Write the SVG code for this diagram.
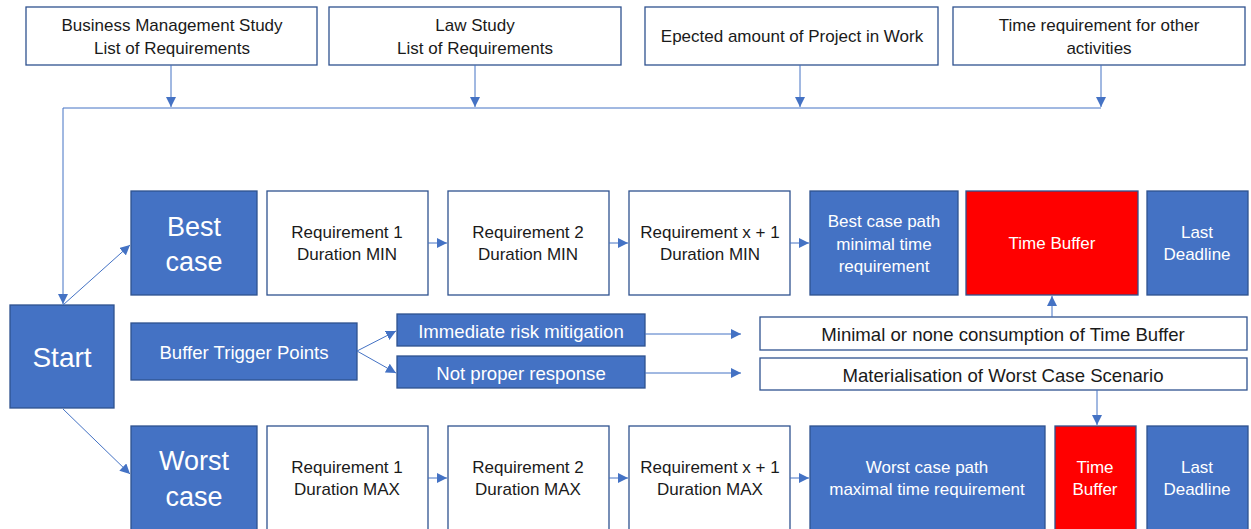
<svg xmlns="http://www.w3.org/2000/svg" width="1251" height="529" viewBox="0 0 1251 529">
  <style>
    .box { fill: #ffffff; stroke: #2F528F; stroke-width: 1.3; }
    .blue { fill: #4472C4; stroke: #2F528F; stroke-width: 1.3; }
    .red { fill: #FF0000; stroke: #2F528F; stroke-width: 1.3; }
    text { font-family: "Liberation Sans", Arial, sans-serif; text-anchor: middle; dominant-baseline: central; }
    .dark { fill: #1a1a1a; font-size: 17px; }
    .light { fill: #ffffff; font-size: 17px; }
    .big { fill: #ffffff; font-size: 27px; }
    .mid { fill: #1a1a1a; font-size: 18.6px; }
    .trig { fill: #ffffff; font-size: 18.6px; }
    .line { stroke: #4472C4; stroke-width: 1; fill: none; }
  </style>
  <defs>
    <marker id="arrow" viewBox="0 0 10 10" refX="10" refY="5" markerWidth="10" markerHeight="10" markerUnits="userSpaceOnUse" orient="auto">
      <path d="M0,0 L10,5 L0,10 Z" fill="#4472C4"/>
    </marker>
  </defs>

  <!-- Inputs -->
  <g id="n-business">
    <rect class="box" x="26" y="7" width="291" height="58"/>
    <text class="dark" x="172" y="25">Business Management Study</text>
    <text class="dark" x="172" y="48">List of Requirements</text>
  </g>
  <g id="n-law">
    <rect class="box" x="329" y="7" width="292" height="58"/>
    <text class="dark" x="475" y="25">Law Study</text>
    <text class="dark" x="475" y="48">List of Requirements</text>
  </g>
  <g id="n-projects">
    <rect class="box" x="645" y="7" width="293" height="58"/>
    <text class="dark" x="792" y="36">Epected amount of Project in Work</text>
  </g>
  <g id="n-other">
    <rect class="box" x="953" y="7" width="292" height="58"/>
    <text class="dark" x="1099" y="25">Time requirement for other</text>
    <text class="dark" x="1099" y="48">activities</text>
  </g>

  <!-- Start -->
  <g id="n-start">
    <rect class="blue" x="10" y="305" width="104" height="103"/>
    <text class="big" x="62" y="357" style="font-size:28px">Start</text>
  </g>

  <!-- Best case row -->
  <g id="n-best">
    <rect class="blue" x="131" y="191" width="126" height="104"/>
    <text class="big" x="194" y="227">Best</text>
    <text class="big" x="194" y="262">case</text>
  </g>
  <g id="n-best-req1">
    <rect class="box" x="267" y="191" width="161" height="104"/>
    <text class="dark" x="347" y="232">Requirement 1</text>
    <text class="dark" x="347" y="254">Duration MIN</text>
  </g>
  <g id="n-best-req2">
    <rect class="box" x="448" y="191" width="161" height="104"/>
    <text class="dark" x="528" y="232">Requirement 2</text>
    <text class="dark" x="528" y="254">Duration MIN</text>
  </g>
  <g id="n-best-reqx">
    <rect class="box" x="629" y="191" width="161" height="104"/>
    <text class="dark" x="710" y="232">Requirement x + 1</text>
    <text class="dark" x="710" y="254">Duration MIN</text>
  </g>
  <g id="n-best-path">
    <rect class="blue" x="810" y="191" width="148" height="104"/>
    <text class="light" x="884" y="221">Best case path</text>
    <text class="light" x="884" y="244">minimal time</text>
    <text class="light" x="884" y="266">requirement</text>
  </g>
  <g id="n-best-buffer">
    <rect class="red" x="966" y="191" width="172" height="104"/>
    <text class="light" x="1052" y="243">Time Buffer</text>
  </g>
  <g id="n-best-deadline">
    <rect class="blue" x="1147" y="191" width="101" height="104"/>
    <text class="light" x="1197" y="232">Last</text>
    <text class="light" x="1197" y="254">Deadline</text>
  </g>

  <!-- Triggers -->
  <g id="n-triggers">
    <rect class="blue" x="131" y="323" width="226" height="57"/>
    <text class="trig" x="244" y="352">Buffer Trigger Points</text>
  </g>
  <g id="n-mitigation">
    <rect class="blue" x="397" y="314" width="248" height="32"/>
    <text class="trig" x="521" y="331">Immediate risk mitigation</text>
  </g>
  <g id="n-response">
    <rect class="blue" x="397" y="356" width="248" height="32"/>
    <text class="trig" x="521" y="373">Not proper response</text>
  </g>
  <g id="n-minimal">
    <rect class="box" x="760" y="317" width="487" height="33"/>
    <text class="mid" x="1003" y="334">Minimal or none consumption of Time Buffer</text>
  </g>
  <g id="n-materialise">
    <rect class="box" x="760" y="358" width="487" height="32"/>
    <text class="mid" x="1003" y="375">Materialisation of Worst Case Scenario</text>
  </g>

  <!-- Worst case row -->
  <g id="n-worst">
    <rect class="blue" x="131" y="426" width="126" height="106"/>
    <text class="big" x="194" y="461">Worst</text>
    <text class="big" x="194" y="497">case</text>
  </g>
  <g id="n-worst-req1">
    <rect class="box" x="267" y="426" width="161" height="106"/>
    <text class="dark" x="347" y="467">Requirement 1</text>
    <text class="dark" x="347" y="489">Duration MAX</text>
  </g>
  <g id="n-worst-req2">
    <rect class="box" x="448" y="426" width="161" height="106"/>
    <text class="dark" x="528" y="467">Requirement 2</text>
    <text class="dark" x="528" y="489">Duration MAX</text>
  </g>
  <g id="n-worst-reqx">
    <rect class="box" x="629" y="426" width="161" height="106"/>
    <text class="dark" x="710" y="467">Requirement x + 1</text>
    <text class="dark" x="710" y="489">Duration MAX</text>
  </g>
  <g id="n-worst-path">
    <rect class="blue" x="810" y="426" width="235" height="106"/>
    <text class="light" x="927" y="467">Worst case path</text>
    <text class="light" x="927" y="489">maximal time requirement</text>
  </g>
  <g id="n-worst-buffer">
    <rect class="red" x="1055" y="426" width="81" height="106"/>
    <text class="light" x="1095" y="467">Time</text>
    <text class="light" x="1095" y="489">Buffer</text>
  </g>
  <g id="n-worst-deadline">
    <rect class="blue" x="1147" y="426" width="101" height="106"/>
    <text class="light" x="1197" y="467">Last</text>
    <text class="light" x="1197" y="489">Deadline</text>
  </g>

  <!-- Connectors -->
  <g id="connectors">
    <line class="line" x1="171" y1="65" x2="171" y2="107" marker-end="url(#arrow)"/>
    <line class="line" x1="475" y1="65" x2="475" y2="107" marker-end="url(#arrow)"/>
    <line class="line" x1="800" y1="65" x2="800" y2="107" marker-end="url(#arrow)"/>
    <line class="line" x1="1101" y1="65" x2="1101" y2="107" marker-end="url(#arrow)"/>
    <polyline class="line" points="1101,108 63,108 63,304" marker-end="url(#arrow)"/>
    <line class="line" x1="63" y1="305" x2="130" y2="245" marker-end="url(#arrow)"/>
    <line class="line" x1="63" y1="409" x2="130" y2="474" marker-end="url(#arrow)"/>
    <line class="line" x1="428" y1="243" x2="447" y2="243" marker-end="url(#arrow)"/>
    <line class="line" x1="609" y1="243" x2="628" y2="243" marker-end="url(#arrow)"/>
    <line class="line" x1="790" y1="243" x2="809" y2="243" marker-end="url(#arrow)"/>
    <line class="line" x1="428" y1="478" x2="447" y2="478" marker-end="url(#arrow)"/>
    <line class="line" x1="609" y1="478" x2="628" y2="478" marker-end="url(#arrow)"/>
    <line class="line" x1="790" y1="478" x2="809" y2="478" marker-end="url(#arrow)"/>
    <line class="line" x1="357" y1="351" x2="396" y2="331" marker-end="url(#arrow)"/>
    <line class="line" x1="357" y1="351" x2="396" y2="373" marker-end="url(#arrow)"/>
    <line class="line" x1="645" y1="334" x2="741" y2="334" marker-end="url(#arrow)"/>
    <line class="line" x1="645" y1="373" x2="741" y2="373" marker-end="url(#arrow)"/>
    <line class="line" x1="1052" y1="317" x2="1052" y2="296" marker-end="url(#arrow)"/>
    <line class="line" x1="1097" y1="390" x2="1097" y2="425" marker-end="url(#arrow)"/>
  </g>
</svg>
